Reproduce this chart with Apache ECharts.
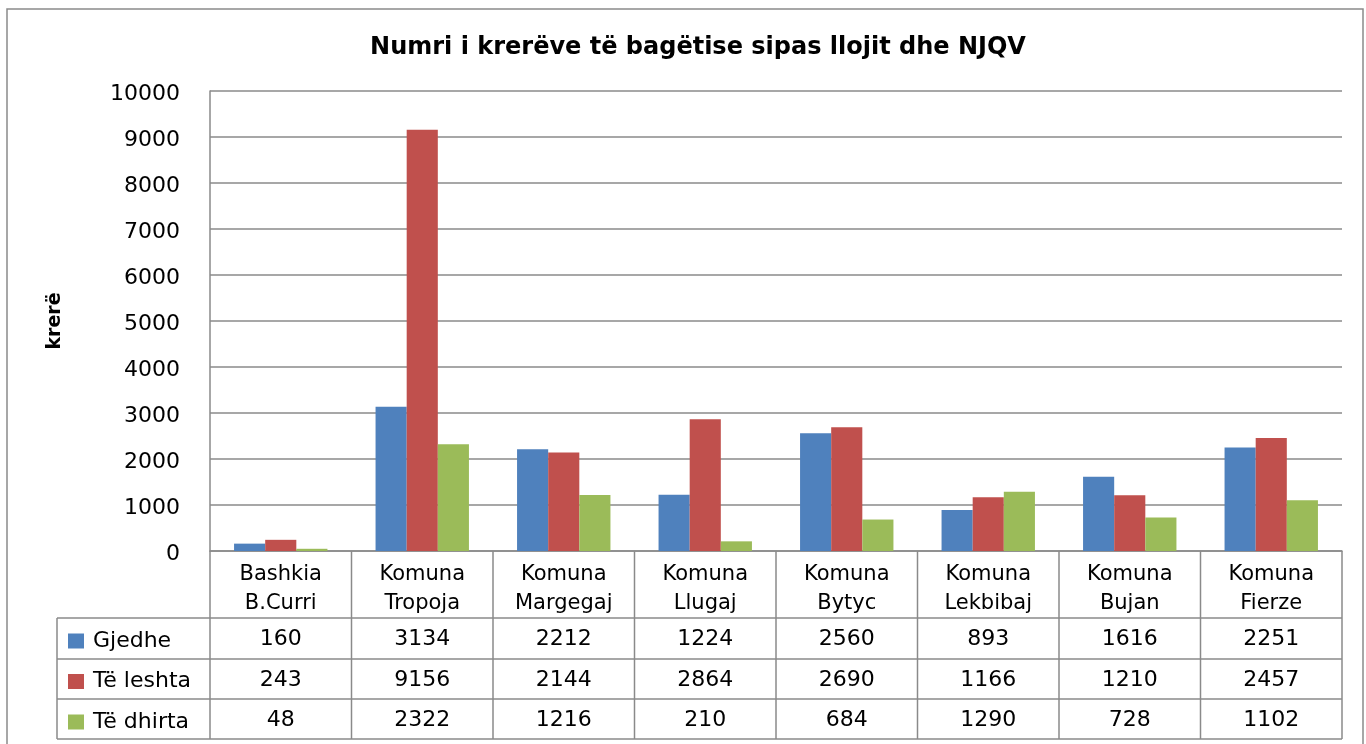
<!DOCTYPE html>
<html>
<head>
<meta charset="utf-8">
<script src="https://cdn.jsdelivr.net/npm/echarts@6/dist/echarts.min.js"></script>
<style>html,body{margin:0;padding:0;background:#fff}#c{width:1366px;height:744px}</style>
</head>
<body>
<div id="c"></div>
<script>
const titleText = 'Numri i krerëve të bagëtise sipas llojit dhe NJQV';
const yAxisName = 'krerë';
const categories = ['Bashkia\nB.Curri', 'Komuna\nTropoja', 'Komuna\nMargegaj', 'Komuna\nLlugaj', 'Komuna\nBytyc', 'Komuna\nLekbibaj', 'Komuna\nBujan', 'Komuna\nFierze'];
const seriesNames = ['Gjedhe', 'Të leshta', 'Të dhirta'];
const gjedhe = [160, 3134, 2212, 1224, 2560, 893, 1616, 2251];
const teLeshta = [243, 9156, 2144, 2864, 2690, 1166, 1210, 2457];
const teDhirta = [48, 2322, 1216, 210, 684, 1290, 728, 1102];
const yMin = 0, yMax = 10000, yInterval = 1000;

const colors = ['#4F81BD', '#C0504D', '#9BBB59'];
const seriesData = [gjedhe, teLeshta, teDhirta];
const FONT = 'DejaVu Sans';
const GRAY = '#8a8a8a';

// layout
const gridLeft = 210, gridRightX = 1342, gridTop = 91, axisY = 551;
const rowLines = [618, 659, 699, 739];
const tableLeft = 57;

const chart = echarts.init(document.getElementById('c'), null, {renderer: 'canvas'});

const rowCenters = [];
for (let i = 0; i < 3; i++) rowCenters.push((rowLines[i] + rowLines[i + 1]) / 2 + 1);

const xAxes = [{
  type: 'category',
  data: categories,
  gridIndex: 0,
  axisLine: {show: true, lineStyle: {color: GRAY, width: 1.5}},
  axisTick: {show: false},
  axisLabel: {show: true, interval: 0, fontFamily: FONT, fontSize: 21, color: '#000', lineHeight: 29, margin: 9}
}];
seriesData.forEach((arr, k) => {
  xAxes.push({
    type: 'category',
    data: categories,
    gridIndex: 0,
    position: 'bottom',
    offset: rowCenters[k] - axisY,
    axisLine: {show: false},
    axisTick: {show: false},
    axisLabel: {show: true, interval: 0, margin: 0, verticalAlign: 'middle', fontFamily: FONT, fontSize: 22, color: '#000',
      formatter: (v, i) => String(arr[i])}
  });
});

const graphics = [];
const line = (x1, y1, x2, y2) => graphics.push({type: 'line', silent: true, shape: {x1, y1, x2, y2}, style: {stroke: GRAY, lineWidth: 1.5}});
// outer border
graphics.push({type: 'rect', silent: true, shape: {x: 7, y: 9, width: 1356, height: 760}, style: {fill: 'none', stroke: GRAY, lineWidth: 1.5}});
// table lines
const n = categories.length;
const cw = (gridRightX - gridLeft) / n;
for (let i = 0; i <= n; i++) {
  const x = gridLeft + i * cw;
  line(x, axisY, x, rowLines[3]);
}
rowLines.forEach(y => line(tableLeft, y, gridRightX, y));
line(tableLeft, rowLines[0], tableLeft, rowLines[3]);

const option = {
  animation: false,
  backgroundColor: '#fff',
  color: colors,
  title: {
    text: titleText, left: 693, textAlign: 'center', top: 31,
    textStyle: {fontFamily: FONT, fontWeight: 'bold', fontSize: 24, color: '#000'}
  },
  legend: {
    data: seriesNames, orient: 'vertical', left: 68, top: 630, padding: 0,
    itemWidth: 16, itemHeight: 15, itemGap: 18.5, icon: 'rect',
    textStyle: {fontFamily: FONT, fontSize: 22, color: '#000', lineHeight: 20, padding: [0, 0, 0, 4]},
    selectedMode: false
  },
  grid: {left: gridLeft, top: gridTop, width: gridRightX - gridLeft, height: axisY - gridTop, containLabel: false},
  xAxis: xAxes,
  yAxis: {
    type: 'value', min: yMin, max: yMax, interval: yInterval,
    name: yAxisName, nameLocation: 'middle', nameRotate: 90, nameGap: 145,
    nameTextStyle: {fontFamily: FONT, fontWeight: 'bold', fontSize: 19, color: '#000'},
    axisLine: {show: true, lineStyle: {color: GRAY, width: 1.5}},
    axisTick: {show: false},
    splitLine: {lineStyle: {color: GRAY, width: 1.5}},
    axisLabel: {margin: 30, formatter: v => '{a|' + v + '}',
      rich: {a: {fontFamily: FONT, fontSize: 22, color: '#000', padding: [7, 0, 0, 0]}}}
  },
  series: seriesNames.map((name, k) => ({
    type: 'bar', name, data: seriesData[k], xAxisIndex: 0,
    barGap: '0%', barCategoryGap: '34%',
    itemStyle: {color: colors[k]}
  })),
  graphic: graphics
};
chart.setOption(option);
</script>
</body>
</html>
